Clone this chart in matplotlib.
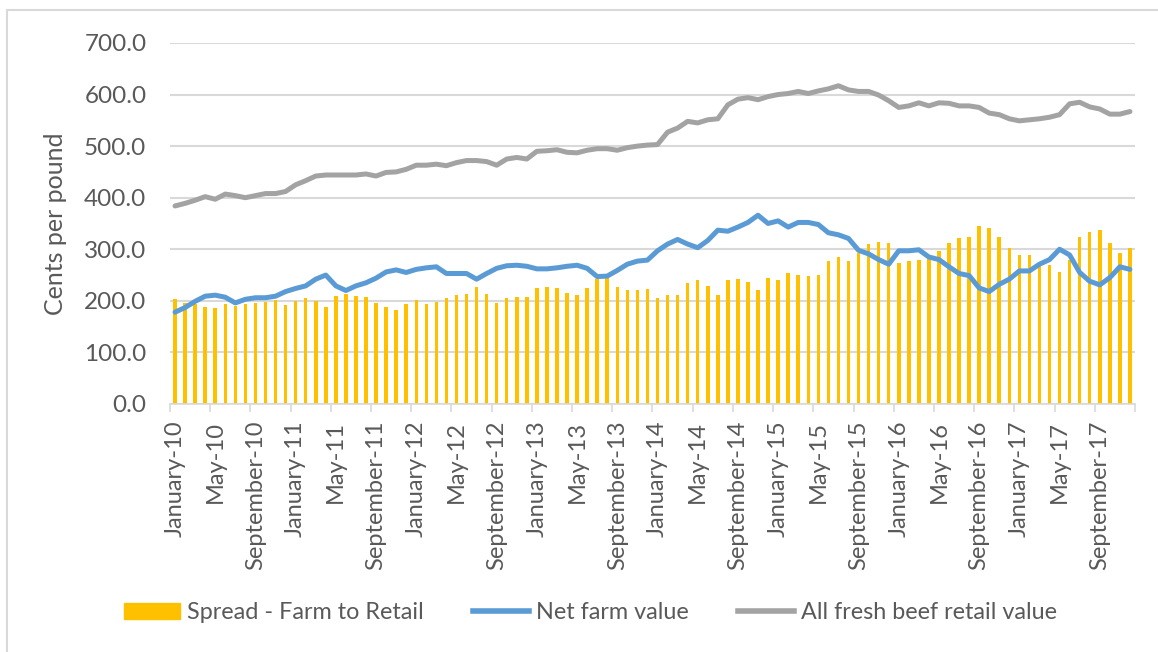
import matplotlib
matplotlib.use("Agg")
from matplotlib import pyplot as plt
from matplotlib.patches import Rectangle
from matplotlib.lines import Line2D
import numpy as np

plt.rcParams["font.family"] = ["Lato", "DejaVu Sans"]

TEXT = "#595959"
GRID = "#d9d9d9"

# monthly, January 2010 - December 2017 (cents per pound)
spread = [
    203, 196, 193, 188, 187, 194, 190, 194, 196, 198, 201, 192,
    199, 205, 199, 189, 210, 214, 210, 208, 196, 188, 183, 194,
    201, 194, 198, 206, 211, 214, 227, 213, 196, 205, 208, 208,
    224, 227, 224, 216, 212, 224, 242, 244, 227, 221, 221, 223,
    205, 212, 212, 234, 240, 229, 212, 240, 242, 237, 221, 245,
    240, 253, 250, 248, 250, 277, 285, 277, 293, 310, 315, 312,
    274, 277, 280, 284, 297, 312, 321, 323, 345, 341, 323, 303,
    288, 288, 271, 269, 256, 279, 323, 334, 337, 312, 293, 303,
]
net_farm = [
    178, 187, 199, 209, 211, 207, 196, 203, 206, 206, 209, 218,
    224, 229, 242, 250, 229, 220, 229, 235, 244, 256, 260, 255,
    261, 264, 266, 253, 253, 253, 242, 253, 263, 268, 269, 267,
    262, 262, 264, 267, 269, 263, 247, 248, 259, 271, 277, 279,
    297, 310, 319, 310, 303, 317, 337, 335, 343, 352, 366, 350,
    355, 343, 352, 352, 348, 332, 328, 321, 298, 291, 280, 271,
    297, 297, 299, 285, 280, 266, 253, 249, 225, 218, 232, 242,
    258, 258, 271, 280, 300, 289, 255, 238, 231, 245, 266, 261,
]
retail = [
    384, 389, 395, 402, 397, 407, 404, 400, 404, 408, 408, 412,
    425, 433, 442, 444, 444, 444, 444, 446, 442, 449, 450, 455,
    463, 463, 465, 462, 468, 472, 472, 470, 463, 475, 478, 475,
    490, 491, 493, 488, 487, 492, 495, 495, 492, 497, 500, 502,
    503, 527, 535, 548, 545, 551, 553, 580, 591, 594, 590, 596,
    600, 602, 606, 602, 607, 611, 617, 609, 606, 606, 599, 588,
    575, 578, 584, 578, 584, 583, 578, 578, 575, 564, 561, 553,
    549, 551, 553, 556, 561, 582, 585, 576, 572, 562, 562, 567,
]
tick_labels = [
    "January-10", "May-10", "September-10",
    "January-11", "May-11", "September-11",
    "January-12", "May-12", "September-12",
    "January-13", "May-13", "September-13",
    "January-14", "May-14", "September-14",
    "January-15", "May-15", "September-15",
    "January-16", "May-16", "September-16",
    "January-17", "May-17", "September-17",
]

x = np.arange(len(spread))

fig = plt.figure(figsize=(11.58, 6.52), dpi=100)
fig.patches.append(Rectangle((0.006, -0.1), 1.1, 1.0847, transform=fig.transFigure,
                             fill=False, edgecolor=GRID, lw=1.5))
ax = fig.add_axes([0.1468, 0.3804, 0.8333, 0.5537])

ax.bar(x, spread, width=0.35, color="#FFC000", zorder=2)
ax.plot(x, net_farm, color="#5B9BD5", lw=3.6, zorder=3, solid_capstyle="round")
ax.plot(x, retail, color="#A3A3A3", lw=3.6, zorder=3, solid_capstyle="round")

ax.set_xlim(-0.5, len(x) - 0.5)
ax.set_ylim(0, 700)
ax.set_yticks(np.arange(0, 701, 100))
ax.set_yticklabels([f"{v:.1f}" for v in range(0, 701, 100)])
ax.yaxis.grid(True, color=GRID, lw=1.5, zorder=0)
ax.set_axisbelow(True)

ax.set_xticks(np.arange(0, len(x), 4))
ax.set_xticklabels(tick_labels, rotation=90)
ax.set_xticks(np.arange(-0.5, len(x), 4), minor=True)
ax.tick_params(axis="x", which="major", length=0, pad=12, labelsize=17, labelcolor=TEXT)
ax.tick_params(axis="x", which="minor", length=6, color=GRID, width=1.2)
ax.tick_params(axis="y", length=0, pad=17, labelsize=17.5, labelcolor=TEXT)

for s in ["top", "right", "left"]:
    ax.spines[s].set_visible(False)
ax.spines["bottom"].set_color(GRID)
ax.spines["bottom"].set_linewidth(1.2)

ax.set_ylabel("Cents per pound", fontsize=18, color=TEXT, labelpad=12)

handles = [
    Rectangle((0, 0), 1, 1, color="#FFC000"),
    Line2D([], [], color="#5B9BD5", lw=4),
    Line2D([], [], color="#A3A3A3", lw=4),
]
labels = ["Spread - Farm to Retail", "Net farm value", "All fresh beef retail value"]
fig.legend(handles, labels, loc="center", bbox_to_anchor=(0.51, 0.06), ncol=3,
           frameon=False, fontsize=16.8, labelcolor=TEXT, handlelength=2.4,
           handletextpad=0.3, columnspacing=2.1)

fig.savefig("out.png", dpi=100)
